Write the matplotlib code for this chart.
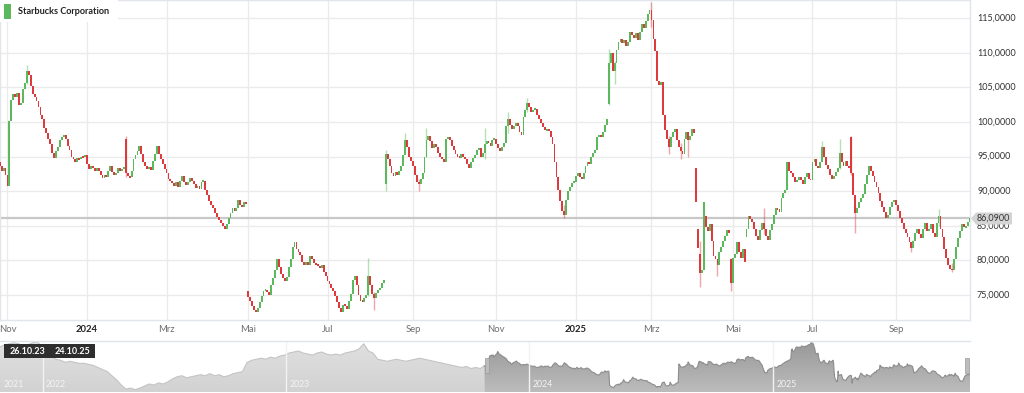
import matplotlib
matplotlib.use("Agg")
import matplotlib.pyplot as plt
import matplotlib.dates as mdates
from matplotlib.patches import Rectangle, Polygon
from matplotlib.colors import LinearSegmentedColormap
import numpy as np
import pandas as pd

plt.rcParams['font.family'] = ['Lato', 'DejaVu Sans']

# NYSE holidays inside the range -> trading calendar for the ordinal x axis
holidays = ['2023-11-23', '2023-12-25', '2024-01-01', '2024-01-15', '2024-02-19',
            '2024-03-29', '2024-05-27', '2024-06-19', '2024-07-04', '2024-09-02',
            '2024-11-28', '2024-12-25', '2025-01-01', '2025-01-09', '2025-01-20',
            '2025-02-17', '2025-04-18', '2025-05-26', '2025-06-19', '2025-07-04',
            '2025-09-01']

# daily closes (USD)
close_2023 = [
    93.6, 92.9, 93.4, 92.3,                                            # Oct
    90.8, 100.2, 103.2, 104.0, 103.6, 104.2, 102.4, 102.8, 104.8, 105.6,
    107.4, 106.8, 105.2, 104.0, 103.6, 103.0, 102.2, 101.0, 100.4, 99.2, 98.4,  # Nov
    97.6, 96.8, 95.6, 94.8, 95.8, 96.4, 97.4, 97.8, 98.2, 97.6,
    96.6, 96.0, 95.0, 94.6, 94.2, 94.8, 94.6, 95.0, 94.9, 95.3,       # Dec
]
close_2024_h1 = [
    94.0, 93.2, 93.6, 93.3, 93.0, 93.4, 92.9, 92.3, 91.9, 92.4, 92.1,
    93.0, 93.6, 92.8, 92.3, 92.6, 93.4, 93.0, 93.2, 93.4, 92.6,       # Jan
    92.2, 92.0, 93.0, 94.6, 95.2, 95.8, 96.6, 95.4, 94.3, 93.7,
    93.2, 93.5, 93.1, 94.4, 95.4, 96.5, 95.4, 94.6, 94.0, 93.2,       # Feb
    92.6, 91.8, 91.5, 91.2, 90.8, 91.3, 90.6, 91.5, 92.2, 91.4,
    90.9, 91.3, 91.9, 91.5, 91.0, 90.5, 90.7, 90.4, 91.4, 91.5,       # Mar
    90.2, 89.4, 88.6, 88.0, 87.6, 86.8, 86.3, 85.8, 85.4, 85.0, 84.6,
    85.2, 86.1, 86.9, 87.6, 87.2, 87.6, 88.8, 88.0, 87.8, 88.5, 88.2, # Apr
    74.7, 74.2, 73.4, 72.8, 72.5, 73.2, 74.0, 74.8, 75.6, 75.8, 75.4,
    75.0, 76.5, 77.4, 78.6, 80.2, 79.0, 78.0, 77.5, 77.0, 77.6, 79.0, # May
    80.2, 82.0, 82.6, 81.6, 81.2, 80.8, 79.8, 79.4, 79.8, 79.3,
    80.6, 80.2, 79.6, 79.4, 79.2, 78.9, 79.3, 78.4, 77.8,             # Jun
]
close_2024_h2 = [
    77.0, 76.6, 76.0, 75.6, 74.8, 74.0, 73.2, 72.6, 73.6, 73.4, 73.0,
    74.2, 75.2, 77.2, 77.8, 76.4, 75.0, 74.2, 74.0, 74.6, 75.0, 77.8, # Jul
    76.4, 75.2, 74.6, 75.3, 75.7, 76.0, 76.8, 77.2, 95.4, 94.6, 93.6,
    92.6, 92.2, 92.8, 92.4, 92.9, 93.6, 95.2, 97.4, 96.4, 95.0, 94.4, # Aug
    93.6, 92.4, 91.4, 91.0, 91.8, 92.6, 95.0, 97.4, 98.0, 97.2,
    96.2, 96.8, 96.4, 95.6, 95.0, 94.6, 94.2, 97.6, 97.8, 97.4,       # Sep
    96.6, 96.0, 95.4, 95.0, 94.8, 95.4, 95.0, 94.6, 93.9, 93.4, 94.2, 94.8,
    95.2, 95.9, 96.2, 95.0, 95.6, 96.8, 97.2, 97.0, 96.6, 97.4, 97.6, # Oct
    96.8, 96.2, 95.8, 96.4, 97.0, 99.4, 100.4, 99.6, 99.0, 99.4,
    99.8, 99.5, 98.6, 98.2, 100.8, 101.8, 102.8, 102.2, 101.4, 101.8, # Nov
    101.9, 101.0, 100.5, 99.8, 99.3, 98.8, 99.0, 98.7, 97.8, 96.8, 94.2,
    92.0, 90.2, 88.6, 87.2, 86.6, 88.8, 90.0, 90.6, 91.2, 91.4,       # Dec
]
close_2025_h1 = [
    92.2, 92.6, 92.0, 91.8, 92.6, 93.6, 94.2, 94.0, 95.0, 95.6,
    96.0, 97.8, 98.2, 97.8, 98.6, 99.6, 100.4, 108.6, 110.0, 107.4,   # Jan
    108.6, 110.4, 111.6, 112.0, 111.4, 111.8, 111.0, 111.6, 113.0, 112.6,
    112.2, 112.8, 111.8, 113.0, 114.2, 113.6, 114.6, 115.6, 116.2,    # Feb
    114.8, 112.0, 110.2, 106.0, 105.4, 105.8, 101.0, 98.8, 97.6, 96.4, 97.8,
    98.6, 99.0, 97.4, 96.4, 95.8, 95.4, 97.6, 98.6, 97.4, 98.0,       # Mar
    99.0, 98.4, 88.4, 81.8, 78.2, 78.6, 88.4, 84.8, 84.2, 85.2, 82.8,
    80.6, 80.2, 79.4, 81.2, 82.0, 82.8, 83.6, 84.4, 84.0, 76.8,       # Apr
    80.4, 81.0, 82.6, 81.2, 80.4, 81.6, 79.8, 84.6, 86.4, 86.0, 85.6,
    84.6, 83.6, 83.0, 84.4, 85.4, 84.6, 83.6, 83.0, 84.4, 85.2,       # May
    86.6, 87.6, 87.4, 87.0, 89.0, 89.8, 90.2, 94.2, 93.0, 92.6,
    92.0, 91.4, 91.6, 92.0, 91.6, 91.0, 92.0, 92.6, 91.8, 91.6,       # Jun
]
close_2025_h2 = [
    94.2, 94.6, 93.6, 93.4, 94.2, 96.4, 95.0, 93.8, 93.2, 92.4, 91.8,
    92.2, 92.8, 93.4, 95.6, 94.2, 93.6, 94.4, 93.6, 93.4, 92.6, 89.4, # Jul
    86.8, 87.6, 88.4, 89.0, 89.6, 91.0, 92.4, 93.6, 93.0, 92.2, 91.4,
    90.6, 89.8, 88.6, 87.8, 87.0, 86.2, 86.6, 87.8, 88.4, 88.8,       # Aug
    88.0, 87.2, 86.2, 85.4, 84.6, 84.0, 83.4, 82.6, 81.8, 82.8, 84.0,
    84.6, 83.8, 83.2, 84.6, 85.4, 84.2, 84.6, 85.2, 84.0, 83.4,       # Sep
    85.4, 86.4, 84.6, 83.4, 81.6, 80.4, 79.4, 78.8, 78.6, 80.2,
    82.0, 83.2, 84.2, 85.2, 84.8, 85.0, 85.6, 86.09,                  # Oct
]

# opens that gap away from the previous close (trading-day index -> open)
gap_open = {0: 94.2, 65: 97.6, 128: 75.6, 199: 91.0, 314: 102.6, 359: 93.3,
            360: 84.6, 361: 81.0, 364: 86.5, 377: 80.2, 385: 83.4, 439: 97.8}

# visible wicks (index -> (low, high))
wicks = {14: (105.5, 108.2), 65: (92.0, 98.0), 190: (74.8, 80.4), 193: (72.8, 75.4),
         199: (90.0, 96.0), 209: (95.5, 98.4), 216: (90.1, 91.8), 220: (95.0, 99.2),
         250: (94.6, 99.1), 262: (98.4, 101.4), 272: (101.4, 103.5), 291: (86.2, 88.0),
         314: (102.4, 110.6), 317: (105.5, 108.8), 336: (113.8, 117.4), 345: (95.4, 98.0),
         351: (94.6, 97.0), 355: (95.0, 98.2), 361: (76.2, 82.8), 370: (77.8, 80.0),
         377: (75.6, 80.4), 394: (83.8, 87.6), 424: (94.6, 97.2), 433: (93.2, 97.6),
         439: (92.4, 98.0), 441: (83.9, 88.0), 470: (81.2, 82.6), 484: (85.0, 87.4),
         491: (78.3, 79.6)}

# navigator history before the shown range, weekly closes from 29.10.21
nav_history = [112, 114, 115, 116, 115, 113, 114, 116, 117, 112, 108, 103, 100, 99, 97,
               98, 97, 96, 96, 95, 94, 92, 90, 88, 84, 80, 75, 71, 72, 70.5, 72,
               74, 76, 75, 77, 76, 78, 81, 83, 84, 82, 83, 84, 85, 84, 86, 84,
               85, 83, 84, 86, 87, 88, 97, 99, 100, 101, 100, 102, 101, 103,
               104, 106, 107, 108, 106, 105, 104, 106, 107, 105,
               104, 105, 104, 106, 107, 108, 110, 115, 108, 106, 100,
               99, 98, 99, 100, 99, 98, 99, 100, 101, 100, 99, 98,
               97, 96, 95, 94, 93, 92, 93, 91, 92, 91]

last_price = 86.09
y_ticks = [75, 80, 85, 90, 95, 100, 105, 110, 115]
month_names = {1: None, 3: 'Mrz', 5: 'Mai', 7: 'Jul', 9: 'Sep', 11: 'Nov'}

closes = np.array(close_2023 + close_2024_h1 + close_2024_h2 + close_2025_h1 + close_2025_h2)
dates = pd.bdate_range('2023-10-26', '2025-10-24', freq='C', holidays=holidays)[:len(closes)]
n = len(closes)
idx = np.arange(n)
opens = np.r_[closes[0], closes[:-1]]
for k, v in gap_open.items():
    opens[k] = v

RED = '#dd3a3e'
GREEN = '#5cb85c'
up = closes >= opens
colors = np.where(up, GREEN, RED)

W, H = 1024, 393
fig = plt.figure(figsize=(W / 100, H / 100), dpi=100)
fig.patch.set_facecolor('white')

# ---- main candlestick panel
ax = fig.add_axes([0, 73 / H, 970 / W, 320 / H])
ax.set_xlim(0.15, 500.2)
ax.set_ylim(71.4, 117.64)
ax.set_xticks([])
ax.set_yticks([])
for s in ax.spines.values():
    s.set_color('#e1e5ec')
    s.set_linewidth(1)

for v in y_ticks:
    ax.axhline(v, color='#ebebeb', lw=1, zorder=0)

tick_pos = []
for i, d in enumerate(dates):
    if d.month in month_names and (i == 0 or dates[i - 1].month != d.month):
        tick_pos.append((i, d))
for i, d in tick_pos:
    ax.axvline(i, color='#ebebeb', lw=1, zorder=0)
    if d.month == 1:
        ax.text(i, -0.031, str(d.year), transform=ax.get_xaxis_transform(), ha='center',
                va='center', fontsize=6.8, fontweight='bold', color='#222222', clip_on=False)
    else:
        ax.text(i, -0.031, month_names[d.month], transform=ax.get_xaxis_transform(),
                ha='center', va='center', fontsize=6.8, color='#6e6e6e', clip_on=False)

ax.axhline(last_price, color='#c8c8c8', lw=1.6, zorder=1)

# wicks
for k, (lo, hi) in wicks.items():
    ax.vlines(k, lo, hi, color=colors[k], alpha=0.45, lw=1, zorder=2)

body_lo = np.minimum(opens, closes)
body_h = np.abs(closes - opens)
small = body_h < 0.28
body_lo[small] = ((opens + closes) / 2)[small] - 0.14
body_h[small] = 0.28
ax.bar(idx, body_h, bottom=body_lo, width=0.95, color=colors, linewidth=0, zorder=3)

# right axis labels
for v in y_ticks:
    ax.text(977 / 970, v, f"{v:.4f}".replace('.', ','), transform=ax.get_yaxis_transform(),
            ha='left', va='center', fontsize=6.5, color='#333333', clip_on=False)

# last price flag
py = 393 - 218.5
flag = Polygon([(971 / W, py / H), (976 / W, (py + 6) / H), (1012 / W, (py + 6) / H),
                (1012 / W, (py - 6) / H), (976 / W, (py - 6) / H)], closed=True,
               transform=fig.transFigure, facecolor='#d4d4d4', edgecolor='none', zorder=5)
fig.patches.append(flag)
fig.text(977 / W, py / H, "86,0900", ha='left', va='center', fontsize=6.5,
         color='#333333', zorder=6)

# legend
fig.patches.append(Rectangle((0, (H - 22) / H), 118 / W, 22 / H, transform=fig.transFigure,
                             facecolor='white', edgecolor='none', zorder=4))
fig.patches.append(Rectangle((4 / W, (H - 19) / H), 7 / W, 15 / H, transform=fig.transFigure,
                             facecolor=GREEN, edgecolor='none', zorder=5))
fig.text(18 / W, (H - 12) / H, "Starbucks Corporation", ha='left', va='center',
         fontsize=6.6, fontweight='bold', color='#222222', zorder=6)

# ---- navigator
nav = fig.add_axes([0, 1 / H, 970 / W, 51 / H])
hist_dates = pd.date_range('2021-10-29', periods=len(nav_history), freq='W-FRI')
x0 = mdates.date2num(pd.Timestamp('2021-10-29'))
x1 = mdates.date2num(pd.Timestamp('2025-10-24'))
nav.set_xlim(x0, x1)
nav.set_ylim(68.2, 117.7)
nav.set_xticks([])
nav.set_yticks([])
for s in nav.spines.values():
    s.set_visible(False)

hx = mdates.date2num(hist_dates)
dx = mdates.date2num(dates)
hx2 = np.r_[hx, dx[0]]
hy2 = np.r_[nav_history, closes[0]]

grad = np.linspace(1, 0, 100).reshape(-1, 1)
light = LinearSegmentedColormap.from_list('l', ['#d2d2d2', '#e0e0e0'])
dark = LinearSegmentedColormap.from_list('d', ['#bcbcbc', '#989898'])
for xs, ys, cmap, lc in [(hx2, hy2, light, '#c4c4c4'), (dx, closes, dark, '#8c8c8c')]:
    poly = nav.fill_between(xs, 60, ys, color='none', lw=0)
    im = nav.imshow(grad[::-1], extent=[xs[0], xs[-1], 68.2, 117.7], aspect='auto',
                    cmap=cmap, origin='lower', zorder=1)
    im.set_clip_path(poly.get_paths()[0], transform=nav.transData)
    nav.plot(xs, ys, color=lc, lw=0.8, zorder=2)
nav.set_xlim(x0, x1)
nav.set_ylim(68.2, 117.7)

for yr in [2022, 2023, 2024, 2025]:
    xv = mdates.date2num(pd.Timestamp(f'{yr}-01-01'))
    nav.axvline(xv, color='#f2f2f2', lw=1, zorder=3)
for yr in [2021, 2022, 2023, 2024, 2025]:
    xv = max(mdates.date2num(pd.Timestamp(f'{yr}-01-01')), x0)
    nav.text(xv + 5, 0.14, str(yr), transform=nav.get_xaxis_transform(), ha='left',
             va='center', fontsize=6.3, color='#f4f4f4', zorder=4)

# selection handles
for hxp in [485, 965]:
    fig.patches.append(Rectangle((hxp / W, (H - 373) / H), 4 / W, 15 / H,
                                 transform=fig.transFigure, facecolor='#bcbcbc',
                                 edgecolor='#9a9a9a', lw=0.5, zorder=5))

# navigator top line
fig.lines.append(plt.Line2D([0, 970 / W], [(H - 340.5) / H] * 2, transform=fig.transFigure,
                            color='#dfe3ea', lw=1, zorder=5))

# range label box
fig.patches.append(Rectangle((4 / W, (H - 358) / H), 91 / W, 14 / H, transform=fig.transFigure,
                             facecolor='#2e2e2e', edgecolor='none', zorder=6))
fig.text(10 / W, (H - 351) / H, "26.10.23", ha='left', va='center', fontsize=6.5,
         fontweight='bold', color='white', zorder=7)
fig.text(55 / W, (H - 351) / H, "24.10.25", ha='left', va='center', fontsize=6.5,
         fontweight='bold', color='white', zorder=7)

fig.savefig('out.png', dpi=100)
